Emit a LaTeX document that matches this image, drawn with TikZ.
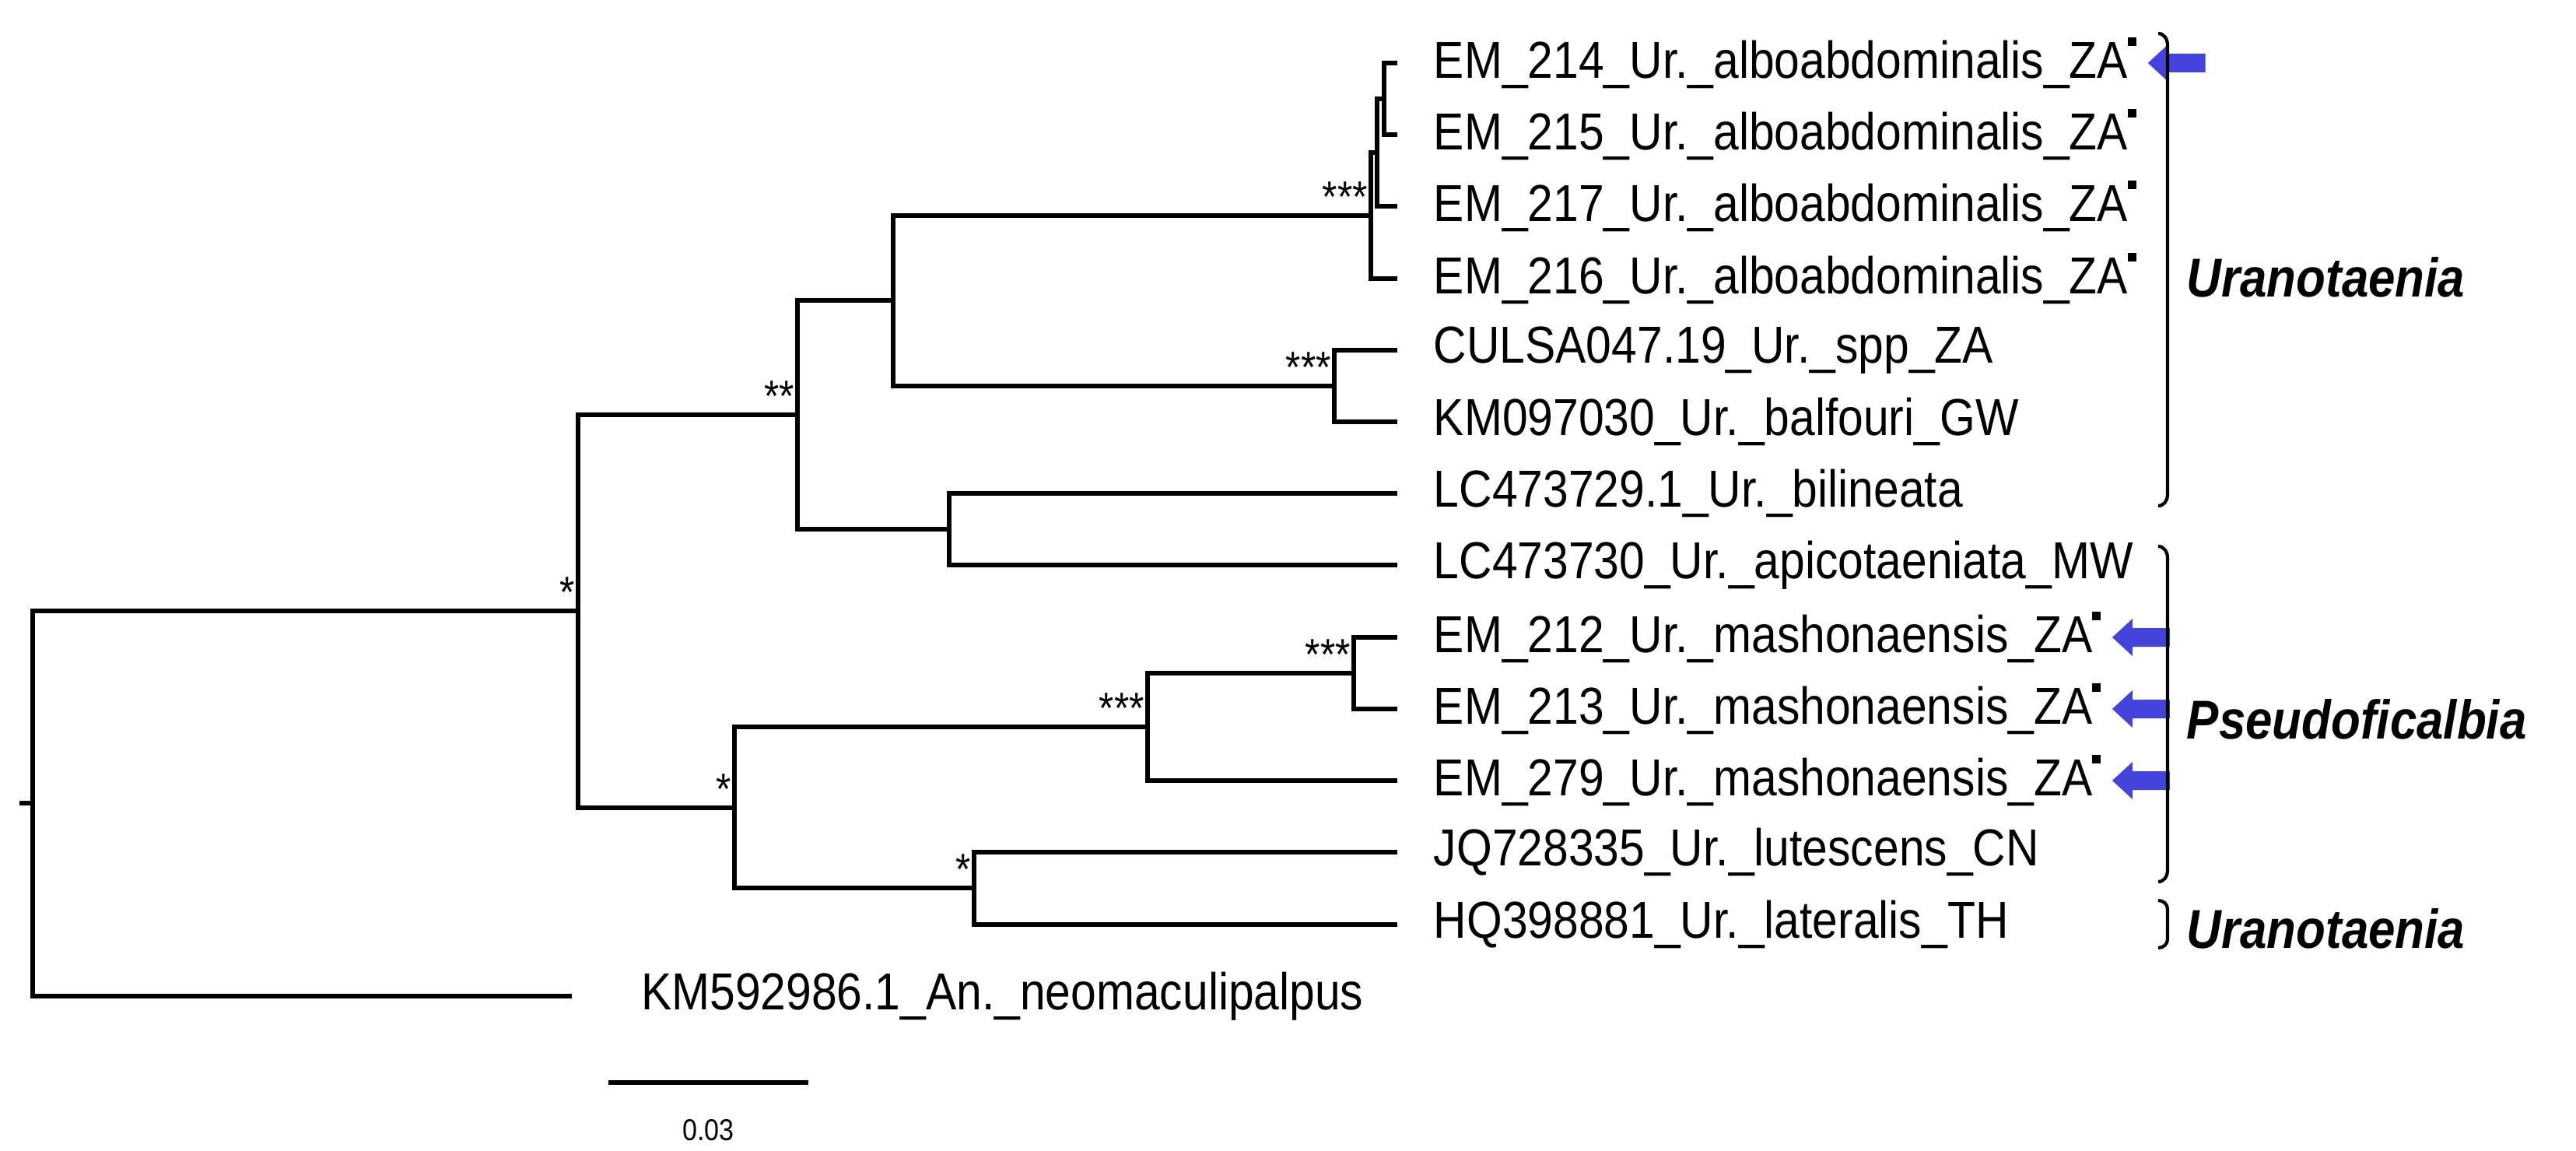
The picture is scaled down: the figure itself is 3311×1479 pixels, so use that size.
\documentclass[tikz,border=0pt]{standalone}
\usepackage{fontspec}
\setmainfont{Liberation Sans}[FakeStretch=0.88]
\usetikzlibrary{positioning,calc}
\definecolor{arrowblue}{RGB}{68,68,220}
\tikzset{
  branch/.style={line width=1.5pt, line cap=rect},
  taxon/.style={anchor=west, inner sep=0pt, font=\fontsize{19}{22}\selectfont},
  supp/.style={anchor=south east, inner sep=1pt, font=\fontsize{16}{18}\selectfont},
  clade/.style={anchor=west, inner sep=0pt, font=\fontsize{20}{24}\selectfont\bfseries\itshape},
  pointer/.style={fill=arrowblue},
}
\newcommand{\sq}{\rule[0.62em]{0.16em}{0.16em}}
\begin{document}
\begin{tikzpicture}[x=0.01cm, y=-0.01cm]
		\useasboundingbox (0,0) rectangle (3311,1479);
		% leaves
		\foreach \i/\yy in {0/81,1/173,2/265,3/358,4/450,5/542,6/634,7/726,8/819,9/911,10/1003,11/1095,12/1188}
			\coordinate (L\i) at (1793,\yy);
		\coordinate (L13) at (732,1280);
		% internal nodes
		\coordinate (K2) at (1779,127);
		\coordinate (K1) at (1770,196);
		\coordinate (D) at (1762,277);
		\coordinate (E) at (1715,496);
		\coordinate (C) at (1148,386);
		\coordinate (F) at (1220,680);
		\coordinate (B) at (1025,533);
		\coordinate (I) at (1740,865);
		\coordinate (H) at (1475,934);
		\coordinate (J) at (1252,1141);
		\coordinate (G) at (944,1038);
		\coordinate (A) at (743,785);
		\coordinate (R) at (42,1032);
		\coordinate (Rt) at (28,1032);
		% branches
		\draw[branch] (K2) |- (L0); \draw[branch] (K2) |- (L1);
		\draw[branch] (K1) |- (K2); \draw[branch] (K1) |- (L2);
		\draw[branch] (D) |- (K1); \draw[branch] (D) |- (L3);
		\draw[branch] (E) |- (L4); \draw[branch] (E) |- (L5);
		\draw[branch] (C) |- (D); \draw[branch] (C) |- (E);
		\draw[branch] (F) |- (L6); \draw[branch] (F) |- (L7);
		\draw[branch] (B) |- (C); \draw[branch] (B) |- (F);
		\draw[branch] (I) |- (L8); \draw[branch] (I) |- (L9);
		\draw[branch] (H) |- (I); \draw[branch] (H) |- (L10);
		\draw[branch] (J) |- (L11); \draw[branch] (J) |- (L12);
		\draw[branch] (G) |- (H); \draw[branch] (G) |- (J);
		\draw[branch] (A) |- (B); \draw[branch] (A) |- (G);
		\draw[branch] (R) |- (A); \draw[branch] (R) |- (L13);
		\draw[branch] (Rt) -- (R);
		% support values
		\node[supp] at (D) {***};
		\node[supp] at (E) {***};
		\node[supp] at (B) {**};
		\node[supp] at (A) {*};
		\node[supp] at (I) {***};
		\node[supp] at (H) {***};
		\node[supp] at (G) {*};
		\node[supp] at (J) {*};
		% taxon names
		\node[taxon] (t0) at ([xshift=14]L0) {EM\_214\_Ur.\_alboabdominalis\_ZA\sq};
		\node[taxon] (t1) at ([xshift=14]L1) {EM\_215\_Ur.\_alboabdominalis\_ZA\sq};
		\node[taxon] (t2) at ([xshift=14]L2) {EM\_217\_Ur.\_alboabdominalis\_ZA\sq};
		\node[taxon] (t3) at ([xshift=14]L3) {EM\_216\_Ur.\_alboabdominalis\_ZA\sq};
		\node[taxon] (t4) at ([xshift=14]L4) {CULSA047.19\_Ur.\_spp\_ZA};
		\node[taxon] (t5) at ([xshift=14]L5) {KM097030\_Ur.\_balfouri\_GW};
		\node[taxon] (t6) at ([xshift=14]L6) {LC473729.1\_Ur.\_bilineata};
		\node[taxon] (t7) at ([xshift=14]L7) {LC473730\_Ur.\_apicotaeniata\_MW};
		\node[taxon] (t8) at ([xshift=14]L8) {EM\_212\_Ur.\_mashonaensis\_ZA\sq};
		\node[taxon] (t9) at ([xshift=14]L9) {EM\_213\_Ur.\_mashonaensis\_ZA\sq};
		\node[taxon] (t10) at ([xshift=14]L10) {EM\_279\_Ur.\_mashonaensis\_ZA\sq};
		\node[taxon] (t11) at ([xshift=14]L11) {JQ728335\_Ur.\_lutescens\_CN};
		\node[taxon] (t12) at ([xshift=14]L12) {HQ398881\_Ur.\_lateralis\_TH};
		\node[taxon] (t13) at ([xshift=26]L13) {KM592986.1\_An.\_neomaculipalpus};
		% arrows
		\foreach \t in {t0,t8,t9,t10}
			\fill[pointer] ([xshift=4]\t.east) -- ++(26,-24) -- ++(0,12) -- ++(48,0) -- ++(0,24) -- ++(-48,0) -- ++(0,12) -- cycle;
		% clades
		\draw[line width=1.2pt] (2774,43) to[out=0,in=90] (2786,58) -- (2786,636) to[out=-90,in=0] (2774,650);
		\draw[line width=1.2pt] (2774,702) to[out=0,in=90] (2786,717) -- (2786,1119) to[out=-90,in=0] (2774,1133);
		\draw[line width=1.2pt] (2774,1157) to[out=0,in=90] (2786,1168) -- (2786,1207) to[out=-90,in=0] (2774,1218);
		\node[clade] (u1) at (2810,356) {Uranotaenia};
		\node[clade] (ps) at (2810,924) {Pseudoficalbia};
		\node[clade] (u2) at (2810,1193) {Uranotaenia};
		% scale bar
		\coordinate (s0) at (785,1391);
		\coordinate (s1) at (1036,1391);
		\coordinate (sm) at ($(s0)!0.5!(s1)$);
		\draw[branch] (s0) -- (s1);
		\node[font=\fontsize{11}{13}\selectfont, below=10pt of sm] (sl) {0.03};
	\end{tikzpicture}
\end{document}
